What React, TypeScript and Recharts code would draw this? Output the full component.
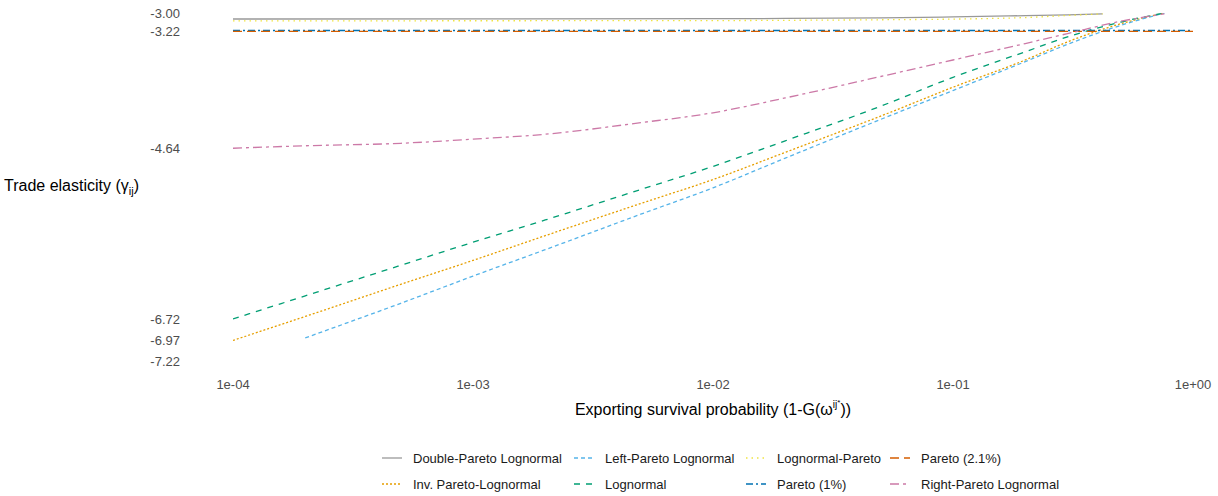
import { LineChart, XAxis, YAxis, Line, Label } from "recharts"

// exporting survival probability grids
const xMain = [1e-4, 2e-4, 5e-4, 1e-3, 2e-3, 5e-3, 1e-2, 2e-2, 5e-2, 0.1, 0.2, 0.3, 0.5, 0.76]
const xLeft = [2e-4, 5e-4, 1e-3, 2e-3, 5e-3, 1e-2, 2e-2, 5e-2, 0.1, 0.2, 0.3, 0.5, 0.76]
const xUpper = [1e-4, 1e-3, 1e-2, 2e-2, 5e-2, 0.1, 0.2, 0.3, 0.42]
const xPareto = [1e-4, 1]

// trade elasticities
const doubleParetoLognormal = [-3.073, -3.072, -3.069, -3.066, -3.058, -3.047, -3.032, -3.022, -3.01]
const invParetoLognormal = [-6.97, -6.68, -6.29, -6.0, -5.7, -5.31, -5.02, -4.69, -4.25, -3.9, -3.57, -3.35, -3.13, -3.0]
const leftParetoLognormal = [-6.94, -6.52, -6.19, -5.87, -5.44, -5.12, -4.76, -4.29, -3.94, -3.59, -3.38, -3.15, -3.0]
const lognormal = [-6.71, -6.43, -6.06, -5.78, -5.51, -5.14, -4.86, -4.55, -4.13, -3.78, -3.47, -3.29, -3.11, -3.0]
const lognormalPareto = [-3.095, -3.094, -3.092, -3.089, -3.082, -3.074, -3.055, -3.03, -3.01]
const pareto1 = [-3.212, -3.212]
const pareto21 = [-3.222, -3.222]
const rightParetoLognormal = [-4.64, -4.61, -4.58, -4.53, -4.47, -4.33, -4.21, -4.03, -3.77, -3.57, -3.37, -3.25, -3.1, -3.01]

const yTicks = [-3.0, -3.22, -4.64, -6.72, -6.97, -7.22]
const xTicks = [1e-4, 1e-3, 1e-2, 1e-1, 1]

const zip = (xs: number[], ys: number[]) => xs.map((x, i) => ({ x, y: ys[i] }))

const series = [
    { name: "Double-Pareto Lognormal", data: zip(xUpper, doubleParetoLognormal), color: "#999999", dash: undefined },
    { name: "Inv. Pareto-Lognormal", data: zip(xMain, invParetoLognormal), color: "#E69F00", dash: "2 2" },
    { name: "Left-Pareto Lognormal", data: zip(xLeft, leftParetoLognormal), color: "#56B4E9", dash: "4 3" },
    { name: "Lognormal", data: zip(xMain, lognormal), color: "#009E73", dash: "6 6" },
    { name: "Lognormal-Pareto", data: zip(xUpper, lognormalPareto), color: "#F0E442", dash: "1.5 4" },
    { name: "Pareto (1%)", data: zip(xPareto, pareto1), color: "#0072B2", dash: "7 3 2 3" },
    { name: "Pareto (2.1%)", data: zip(xPareto, pareto21), color: "#D55E00", dash: "9 5" },
    { name: "Right-Pareto Lognormal", data: zip(xMain, rightParetoLognormal), color: "#CC79A7", dash: "9 4 3 4" },
]

const font = "'Liberation Sans', Arial, sans-serif"

const fmtExp = (v: number) => {
    const [m, e] = v.toExponential(0).split("e")
    return `${m}e${e[0]}${e.slice(1).padStart(2, "0")}`
}

const YTitle = ({ viewBox }: any) => (
    <text x={viewBox.x - 4} y={viewBox.y + viewBox.height / 2 + 4} fontSize={16} fill="#000" fontFamily={font}>
        <tspan>Trade elasticity (</tspan>
        <tspan>γ</tspan>
        <tspan fontSize={11} dy={4}>ij</tspan>
        <tspan dy={-4}>)</tspan>
    </text>
)

const XTitle = ({ viewBox }: any) => (
    <text x={viewBox.x + viewBox.width / 2} y={viewBox.y + 54} fontSize={16} fill="#000" fontFamily={font} textAnchor="middle">
        <tspan>Exporting survival probability (1-G(ω</tspan>
        <tspan fontSize={10} dy={-7}>ij</tspan>
        <tspan fontSize={8} dy={-3}>*</tspan>
        <tspan dy={10}>))</tspan>
    </text>
)

const LegendBox = () => (
    <div style={{
        position: "absolute", left: 382, top: 445, display: "grid",
        gridTemplateRows: "26px 26px", gridAutoFlow: "column",
        gridTemplateColumns: "192px 172px 144px auto",
        fontFamily: font, fontSize: 13, color: "#1a1a1a",
    }}>
        {series.map(s => (
            <div key={s.name} style={{ display: "flex", alignItems: "center" }}>
                <svg width={20} height={10}>
                    <line x1={0} y1={5} x2={20} y2={5} stroke={s.color} strokeWidth={1.3} strokeDasharray={s.dash} />
                </svg>
                <span style={{ marginLeft: 11 }}>{s.name}</span>
            </div>
        ))}
    </div>
)

export default function App() {
    return (
        <div style={{ position: "relative", width: 1218, height: 496, background: "#fff", overflow: "hidden" }}>
            <style>{"body { margin: 0; } svg.recharts-surface { overflow: visible; }"}</style>
            <LineChart width={1218} height={496} margin={{ top: 13, right: 25, left: 8, bottom: 75 }}>
                <XAxis dataKey="x" type="number" scale="log" domain={[1e-4, 1]} ticks={xTicks}
                    allowDataOverflow axisLine={false} tickLine={false} tickSize={0} tickMargin={19} height={60}
                    tickFormatter={fmtExp} tick={{ fontSize: 13, fill: "#4d4d4d", fontFamily: font }}>
                    <Label content={<XTitle />} />
                </XAxis>
                <YAxis type="number" domain={[-7.22, -3.0]} ticks={yTicks} allowDataOverflow width={225}
                    axisLine={false} tickLine={false} tickSize={0} tickMargin={53} interval={0}
                    tickFormatter={(v: number) => v.toFixed(2)} tick={{ fontSize: 13, fill: "#4d4d4d", fontFamily: font }}>
                    <Label content={<YTitle />} />
                </YAxis>
                {series.map(s => (
                    <Line key={s.name} data={s.data} dataKey="y" type="monotone" stroke={s.color}
                        strokeWidth={1.3} strokeDasharray={s.dash} dot={false} activeDot={false}
                        isAnimationActive={false} />
                ))}
            </LineChart>
            <LegendBox />
        </div>
    )
}
